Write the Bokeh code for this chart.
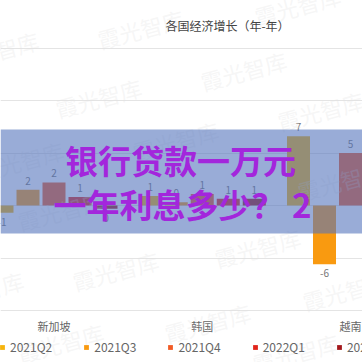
from bokeh.plotting import figure
from bokeh.models import (Range1d, FixedTicker, Legend, LegendItem, Label,
                          BoxAnnotation, ColumnDataSource, Grid)
from bokeh.core.properties import value
from bokeh.embed import file_html
from bokeh.resources import INLINE

# ---------------- data ----------------
countries = ["新加坡", "韩国", "越南"]
quarters = ["2021Q2", "2021Q3", "2021Q4", "2022Q1", "2022Q2"]
q2021_2 = [-0.7, 0.9, 6.6]
q2021_3 = [1.5, 0.3, -5.6]
q2021_4 = [2.2, 1.1, 5.0]
q2022_1 = [0.8, 0.65, 5.1]
q2022_2 = [-0.3, 0.65, 7.7]
series = [q2021_2, q2021_3, q2021_4, q2022_1, q2022_2]
colors = ["#F6B40C", "#F99A10", "#F15A24", "#E1251B", "#A3171B"]
y_ticks = [-10, -5, 0, 5, 10, 15]
title_text = "各国经济增长（年-年）"
overlay_lines = ["银行贷款一万元", "一年利息多少？ 2"]
watermark_text = "霞光智库"

# ---------------- layout constants ----------------
W = H = 362
GROUP_PX = 148.25
BAR_PITCH_PX = 26.0
BAR_W_PX = 23.0
ZERO_PX = 205.0
PX_PER_UNIT = 10.5
X0 = -53.5 / GROUP_PX
FONT = "Noto Sans CJK SC"


def dx(px):
    return X0 + px / GROUP_PX


def dy(py):
    return (ZERO_PX - py) / PX_PER_UNIT


p = figure(width=W, height=H,
           x_range=Range1d(X0, X0 + W / GROUP_PX),
           y_range=Range1d(dy(H), dy(0)),
           output_backend="svg", toolbar_location=None,
           x_axis_location=None, y_axis_location=None,
           min_border=0, min_border_left=0, min_border_right=0,
           min_border_top=0, min_border_bottom=0,
           outline_line_color=None, background_fill_color="white",
           border_fill_color="white")

p.xgrid.grid_line_color = None
p.ygrid.grid_line_color = None
p.add_layout(Grid(dimension=1, ticker=FixedTicker(ticks=y_ticks),
                  grid_line_color="#e4e4e4", grid_line_width=1))

# ---------------- bars ----------------
pitch = BAR_PITCH_PX / GROUP_PX
bw = BAR_W_PX / GROUP_PX
items = []
for j, vals in enumerate(series):
    xs = [i + (j - 2) * pitch for i in range(len(countries))]
    src = ColumnDataSource(dict(
        x=xs, top=vals,
        label=[str(round(v)) for v in vals],
        yoff=[-9 if v >= 0 else 9 for v in vals],
    ))
    r = p.vbar(x="x", top="top", bottom=0, width=bw, source=src,
               fill_color=colors[j], line_color=None)
    p.text(x="x", y="top", text="label", source=src, y_offset="yoff",
           text_align="center", text_baseline="middle",
           text_font=value(FONT), text_font_size="10px", text_color="#777777")
    items.append(LegendItem(label=quarters[j], renderers=[r]))

# ---------------- category labels (axis) ----------------
cat_src = ColumnDataSource(dict(x=list(range(len(countries))),
                                y=[dy(325)] * len(countries),
                                t=countries))
p.text(x="x", y="y", text="t", source=cat_src, text_align="center",
       text_baseline="middle", text_font=value(FONT), text_font_size="11px",
       text_color="#666666")

# ---------------- legend ----------------
legend = Legend(items=items, orientation="horizontal", location=(-1, 7),
                glyph_width=6, glyph_height=6, label_standoff=5, spacing=31,
                padding=0, margin=0, border_line_color=None,
                background_fill_alpha=0, label_text_font=FONT,
                label_text_font_size="12px", label_text_color="#666666",
                label_height=14)
p.add_layout(legend, "center")

# ---------------- title ----------------
p.add_layout(Label(x=dx(227), y=dy(25), text=title_text, text_align="center",
                   text_baseline="middle", text_font=FONT,
                   text_font_size="12px", text_color="#444444"))

# ---------------- overlay band ----------------
p.add_layout(BoxAnnotation(bottom=dy(233), top=dy(129), fill_color="#5574BC",
                           fill_alpha=0.6, line_color=None))

# ---------------- watermarks ----------------
wm_px = [(140, 28), (297, 5), (-5, 50), (243, 70), (98, 97), (320, 110),
         (20, 160), (175, 140), (340, 180), (115, 270), (257, 247),
         (345, 290), (-20, 290), (60, 210), (207, 322), (60, 342),
         (295, 352)]
wm_src = ColumnDataSource(dict(x=[dx(a) for a, b in wm_px],
                               y=[dy(b) for a, b in wm_px],
                               t=[watermark_text] * len(wm_px)))
wm = p.text(x="x", y="y", text="t", source=wm_src, angle=0.26,
            text_align="center", text_baseline="middle",
            text_font=value(FONT), text_font_size="22px",
            text_color="#e2e2e2", text_alpha=0.3)
wm.level = "annotation"

# ---------------- overlay headline ----------------
p.add_layout(Label(x=dx(180), y=dy(159), text=overlay_lines[0],
                   text_align="center", text_baseline="middle", text_font=FONT,
                   text_font_style="bold", text_font_size="33px",
                   text_color="#A326DC"))
p.add_layout(Label(x=dx(182), y=dy(203), text=overlay_lines[1],
                   text_align="center", text_baseline="middle", text_font=FONT,
                   text_font_style="bold", text_font_size="33px",
                   text_color="#A326DC"))

open("out.html", "w").write(file_html(p, INLINE))
